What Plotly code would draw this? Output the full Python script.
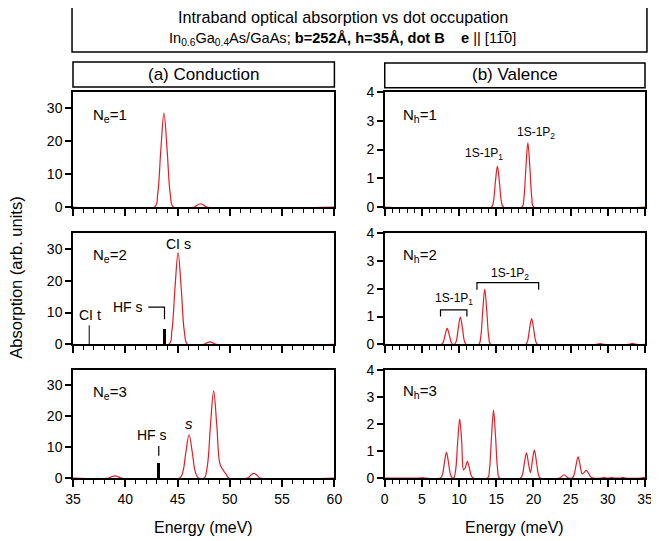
import plotly.graph_objects as go

# ---------------- data ----------------
# Conduction band spectra (energy meV, absorption) -- panel (a)
cond_ne1 = [(35.0, 0), (42.8, 0), (43.1, 4.0), (43.4, 17.4), (43.7, 28.6), (44.0, 17.4),
            (44.3, 4.0), (44.6, 0), (46.6, 0), (46.9, 0.6), (47.2, 1.0), (47.5, 0.6),
            (47.8, 0), (60.0, 0)]
cond_ne2 = [(35.0, 0), (44.15, 0), (44.45, 4.0), (44.75, 17.6), (45.05, 28.8), (45.35, 17.6),
            (45.65, 4.0), (45.95, 0), (47.5, 0), (47.8, 0.5), (48.1, 0.8), (48.4, 0.5),
            (48.7, 0), (60.0, 0)]
cond_ne3 = [(35.0, 0), (38.4, 0), (38.7, 0.45), (39.0, 0.7), (39.3, 0.45), (39.6, 0),
            (45.2, 0), (45.5, 1.9), (45.8, 8.5), (46.1, 14.0), (46.4, 8.5), (46.7, 1.9),
            (47.0, 0), (47.55, 0), (47.85, 3.9), (48.15, 17.2), (48.45, 28.2), (48.75, 17.2),
            (49.05, 4.6), (49.35, 2.6), (49.65, 1.2), (49.9, 0), (51.7, 0), (52.0, 0.9),
            (52.3, 1.5), (52.6, 0.9), (52.9, 0), (60.0, 0)]

# Valence band spectra -- panel (b)
val_nh1 = [(0.0, 0), (14.35, 0), (14.61, 0.19), (14.88, 0.87), (15.15, 1.42), (15.42, 0.87),
           (15.69, 0.19), (15.95, 0), (18.45, 0), (18.71, 0.3), (18.98, 1.36), (19.25, 2.23),
           (19.52, 1.36), (19.79, 0.3), (20.05, 0), (35.0, 0)]
val_nh2 = [(0.0, 0), (7.6, 0), (7.86, 0.08), (8.13, 0.35), (8.4, 0.58), (8.67, 0.35),
           (8.94, 0.08), (9.2, 0), (9.37, 0), (9.63, 0.13), (9.9, 0.6), (10.17, 0.98),
           (10.44, 0.6), (10.71, 0.13), (10.97, 0), (12.65, 0), (12.91, 0.27), (13.18, 1.21),
           (13.45, 1.98), (13.72, 1.21), (13.99, 0.27), (14.25, 0), (18.95, 0), (19.21, 0.13),
           (19.48, 0.57), (19.75, 0.93), (20.02, 0.57), (20.29, 0.13), (20.55, 0), (28.5, 0),
           (29.0, 0.03), (29.5, 0), (32.8, 0), (33.3, 0.04), (33.8, 0), (35.0, 0)]
val_nh3 = [(0.0, 0), (4.6, 0), (5.0, 0.01), (5.4, 0), (7.5, 0), (7.76, 0.13), (8.03, 0.58),
           (8.3, 0.95), (8.57, 0.58), (8.84, 0.13), (9.1, 0), (9.28, 0), (9.54, 0.3),
           (9.81, 1.34), (10.08, 2.19), (10.35, 1.34), (10.6, 0.3), (10.83, 0.38), (11.1, 0.62),
           (11.37, 0.38), (11.64, 0.08), (11.9, 0), (13.83, 0), (14.09, 0.34), (14.36, 1.53),
           (14.63, 2.5), (14.9, 1.53), (15.17, 0.34), (15.43, 0), (18.26, 0), (18.52, 0.13),
           (18.79, 0.57), (19.06, 0.93), (19.35, 0.5), (19.6, 0.2), (19.85, 0.63), (20.12, 1.03),
           (20.39, 0.63), (20.66, 0.14), (20.92, 0), (23.5, 0), (24.1, 0.12), (24.7, 0),
           (25.2, 0), (25.46, 0.11), (25.73, 0.48), (26.0, 0.78), (26.27, 0.48), (26.55, 0.15),
           (26.8, 0.2), (27.1, 0.28), (27.4, 0.17), (27.7, 0.04), (28.0, 0), (29.2, 0),
           (29.5, 0.02), (29.8, 0), (30.2, 0), (30.5, 0.02), (30.8, 0), (31.7, 0), (32.0, 0.02),
           (32.3, 0), (34.5, 0), (35.0, 0.02)]

# Hartree-Fock singlet lines (energy, height)
hf_s_ne2 = (43.75, 5.0)
hf_s_ne3 = (43.2, 5.0)
# CI triplet line
ci_t_ne2 = (36.55, 6.0)

cond_x_range = [35, 60]
val_x_range = [0, 35]
cond_y_range = [0, 35]
val_y_range = [0, 4]
cond_y_ticks = [0, 10, 20, 30]
val_y_ticks = [0, 1, 2, 3, 4]
cond_labels = ["N<sub>e</sub>=1", "N<sub>e</sub>=2", "N<sub>e</sub>=3"]
val_labels = ["N<sub>h</sub>=1", "N<sub>h</sub>=2", "N<sub>h</sub>=3"]

RED = "rgb(228,30,38)"
FONT = "Liberation Sans, Arial, Helvetica, sans-serif"

# ---------------- layout geometry ----------------
# (page body adds an 8px offset, so the figure is drawn 8px smaller and shifted)
W, H = 651, 533
ML, MR, MT, MB = 65, 6, 84, 63
xdom_a = [0.0, 0.457]
xdom_b = [0.545, 1.0]
ydoms = [[0.702, 1.0], [0.346, 0.635], [0.0, 0.280]]

fig = go.Figure()


def ax_name(i, kind):
    return kind if i == 1 else f"{kind}{i}"


spectra = [(cond_ne1, val_nh1), (cond_ne2, val_nh2), (cond_ne3, val_nh3)]
for r in range(3):
    for c in range(2):
        idx = r * 2 + c + 1
        pts = spectra[r][c]
        xs = [p[0] for p in pts]
        ys = [p[1] for p in pts]
        fig.add_trace(go.Scatter(x=xs, y=ys, mode="lines",
                                 line=dict(color=RED, width=1.2, shape="spline", smoothing=1.0),
                                 xaxis=ax_name(idx, "x"), yaxis=ax_name(idx, "y"),
                                 showlegend=False, hoverinfo="skip"))
        xa = dict(domain=xdom_a if c == 0 else xdom_b,
                  range=cond_x_range if c == 0 else val_x_range,
                  anchor=ax_name(idx, "y"),
                  tickmode="linear", tick0=0, dtick=5,
                  ticks="outside", ticklen=7, tickwidth=1.5, tickcolor="black",
                  minor=dict(dtick=1, ticks="outside", ticklen=4, tickwidth=1, tickcolor="black"),
                  showline=True, mirror=True, linewidth=1.5, linecolor="black",
                  showgrid=False, zeroline=False,
                  showticklabels=(r == 2),
                  tickfont=dict(family=FONT, size=14, color="black"))
        ya = dict(domain=ydoms[r],
                  range=cond_y_range if c == 0 else val_y_range,
                  anchor=ax_name(idx, "x"),
                  tickmode="array", tickvals=cond_y_ticks if c == 0 else val_y_ticks,
                  ticks="outside", ticklen=6, tickwidth=1.5, tickcolor="black",
                  showline=True, mirror=True, linewidth=1.5, linecolor="black",
                  showgrid=False, zeroline=False,
                  tickfont=dict(family=FONT, size=14, color="black"))
        fig.layout["xaxis" if idx == 1 else f"xaxis{idx}"] = xa
        fig.layout["yaxis" if idx == 1 else f"yaxis{idx}"] = ya

# HF singlet bars
for (e, h), idx in ((hf_s_ne2, 3), (hf_s_ne3, 5)):
    fig.add_trace(go.Bar(x=[e], y=[h], width=0.32, marker=dict(color="black", line=dict(width=0)),
                         xaxis=ax_name(idx, "x"), yaxis=ax_name(idx, "y"),
                         showlegend=False, hoverinfo="skip"))

# CI triplet thin line
fig.add_trace(go.Scatter(x=[ci_t_ne2[0], ci_t_ne2[0]], y=[0, ci_t_ne2[1]], mode="lines",
                         line=dict(color="black", width=1), xaxis="x3", yaxis="y3",
                         showlegend=False, hoverinfo="skip"))

# bracket / marker lines (label guides)
guides = [
    ("x3", "y3", [42.2, 43.75, 43.75], [11.7, 11.7, 7.9]),           # HF s, N_e=2
    ("x5", "y5", [43.2, 43.2], [10.4, 7.2]),                         # HF s, N_e=3
    ("x4", "y4", [7.5, 7.5, 11.05, 11.05], [1.0, 1.24, 1.24, 1.0]),  # 1S-1P1 bracket
    ("x4", "y4", [12.4, 12.4, 20.7, 20.7], [1.96, 2.22, 2.22, 1.96]),  # 1S-1P2 bracket
]
for xr, yr, gx, gy in guides:
    fig.add_trace(go.Scatter(x=gx, y=gy, mode="lines", line=dict(color="black", width=1.2),
                             xaxis=xr, yaxis=yr, showlegend=False, hoverinfo="skip"))

ann = []


def add_text(text, x, y, xref, yref, size=14, xanchor="center", yanchor="middle", **kw):
    ann.append(dict(text=text, x=x, y=y, xref=xref, yref=yref, showarrow=False,
                    xanchor=xanchor, yanchor=yanchor,
                    font=dict(family=FONT, size=size, color="black"), **kw))


for r in range(3):
    ia = r * 2 + 1
    ib = r * 2 + 2
    add_text(cond_labels[r], 36.7, 27.8, ax_name(ia, "x"), ax_name(ia, "y"), size=15, xanchor="left")
    add_text(val_labels[r], 2.2, 3.2, ax_name(ib, "x"), ax_name(ib, "y"), size=15, xanchor="left")

add_text("CI s", 45.1, 31.6, "x3", "y3")
add_text("CI t", 36.6, 9.3, "x3", "y3")
add_text("HF s", 40.3, 11.7, "x3", "y3")
add_text("HF s", 42.55, 13.8, "x5", "y5")
add_text("<i>s</i>", 46.1, 17.5, "x5", "y5", size=15)
add_text("1S-1P<sub>1</sub>", 13.4, 1.86, "x2", "y2", size=12)
add_text("1S-1P<sub>2</sub>", 20.4, 2.58, "x2", "y2", size=12)
add_text("1S-1P<sub>1</sub>", 9.3, 1.62, "x4", "y4", size=12)
add_text("1S-1P<sub>2</sub>", 16.8, 2.53, "x4", "y4", size=12)

# titles and headers
add_text("Intraband optical absorption vs dot occupation", 0.472, 1.195, "paper", "paper", size=16.2)
add_text("In<sub>0.6</sub>Ga<sub>0.4</sub>As/GaAs; <b>b=252Å, h=35Å, dot B</b>    <b>e</b> || [11\u03050]",
         0.472, 1.138, "paper", "paper", size=14.6)
add_text("(a) Conduction", sum(xdom_a) / 2, 1.045, "paper", "paper", size=17)
add_text("(b) Valence", sum(xdom_b) / 2, 1.045, "paper", "paper", size=17)
add_text("Energy (meV)", sum(xdom_a) / 2, -0.127, "paper", "paper", size=16)
add_text("Energy (meV)", sum(xdom_b) / 2, -0.127, "paper", "paper", size=16)
add_text("Absorption (arb. units)", -0.099, 0.52, "paper", "paper", size=16.5, textangle=-90)

shapes = [
    dict(type="rect", xref="paper", yref="paper", x0=-0.0017, x1=1.0034, y0=1.1036, y1=1.233,
         line=dict(color="black", width=1.5), fillcolor="white", layer="below"),
    dict(type="rect", xref="paper", yref="paper", x0=xdom_a[0], x1=xdom_a[1], y0=1.013, y1=1.078,
         line=dict(color="black", width=1.5)),
    dict(type="rect", xref="paper", yref="paper", x0=xdom_b[0], x1=xdom_b[1], y0=1.011, y1=1.075,
         line=dict(color="black", width=1.5)),
]

fig.update_layout(width=W, height=H, margin=dict(l=ML, r=MR, t=MT, b=MB),
                  paper_bgcolor="white", plot_bgcolor="white",
                  annotations=ann, shapes=shapes, showlegend=False, bargap=0,
                  font=dict(family=FONT, color="black"))

fig.write_html("out.html")
